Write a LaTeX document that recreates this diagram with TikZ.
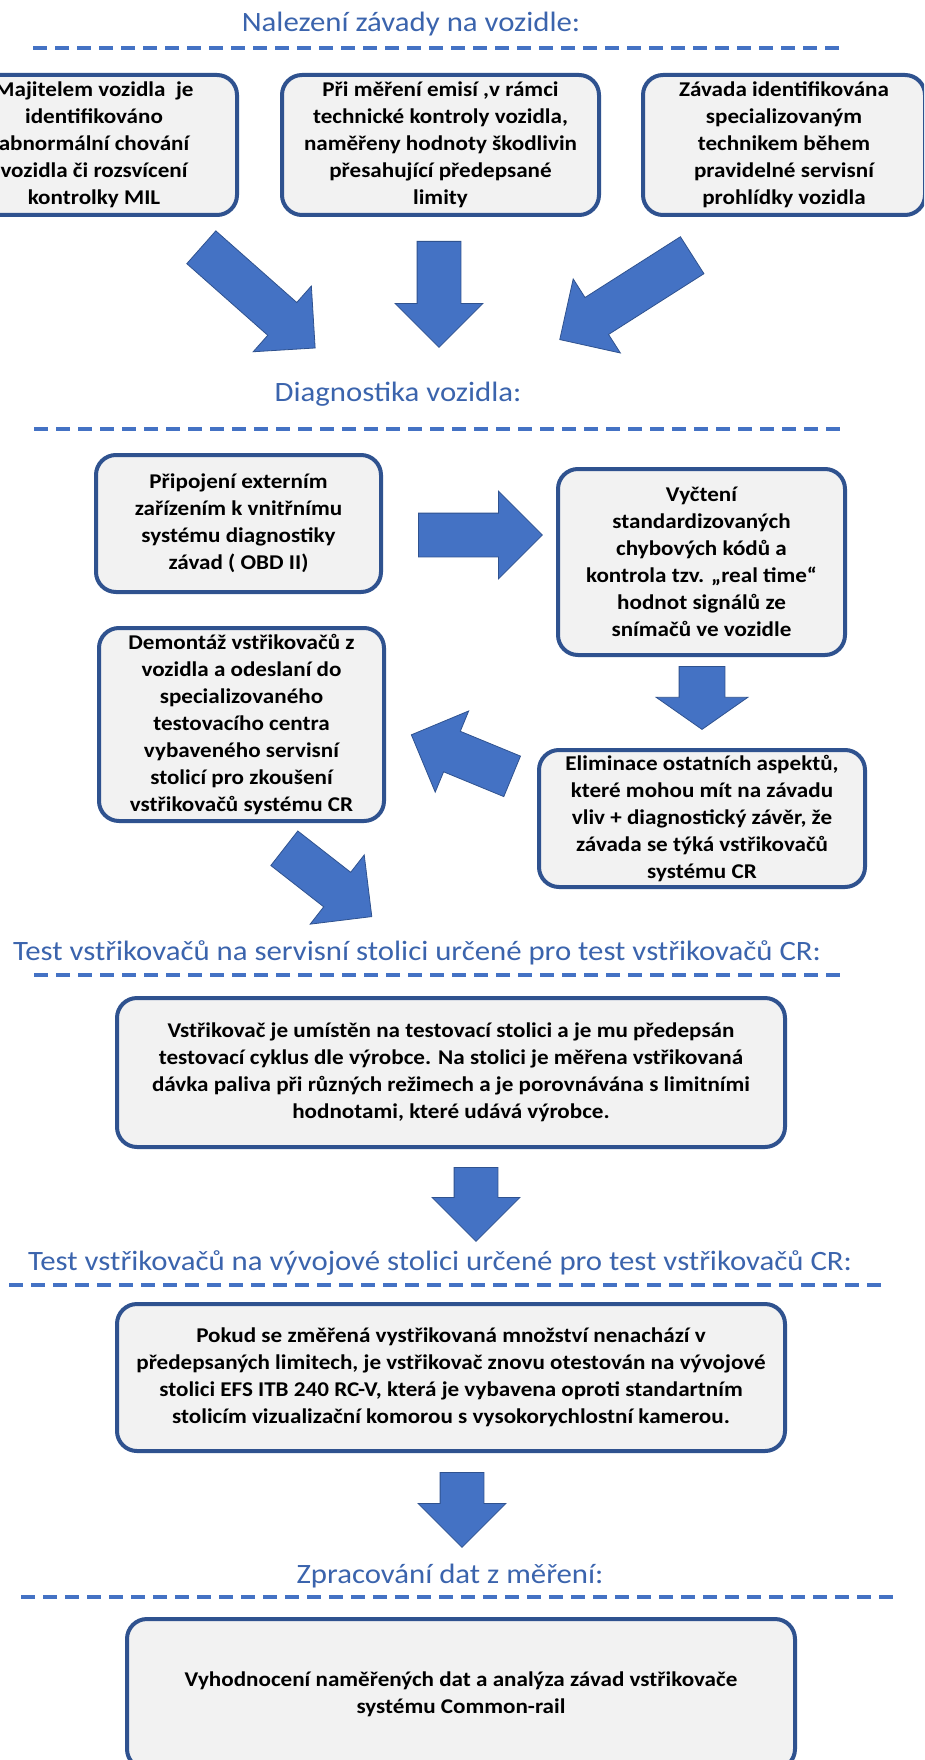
\documentclass[tikz,border=0pt]{standalone}
\usepackage{fontspec}
\setmainfont[FakeStretch=1.1]{Carlito}
\usepackage{xcolor}
\usetikzlibrary{shapes.arrows}
\definecolor{boxline}{HTML}{2F528F}
\definecolor{boxfill}{HTML}{F2F2F2}
\definecolor{arrowblue}{HTML}{4472C4}
\definecolor{titleblue}{HTML}{3B64AD}

\begin{document}
\begin{tikzpicture}[x=1pt,y=-1pt]
\tikzstyle{every node}+=[inner sep=0pt]
\tikzstyle{box}=[draw=boxline,fill=boxfill,line width=4pt,rounded corners=20pt,align=center,font=\fontsize{21}{27}\selectfont\bfseries]
\tikzstyle{blockarrow}=[single arrow,draw=boxline,fill=arrowblue,line width=0.8pt,inner xsep=0pt,inner ysep=21.5pt,single arrow head extend=22pt,anchor=tail]
\tikzstyle{heading}=[anchor=base,text=titleblue,font=\fontsize{28}{34}\selectfont]
\tikzstyle{dashline}=[arrowblue,line width=3.5pt,dash pattern=on 14pt off 8pt]
\clip (0,0) rectangle (924,1760);
\fill[white] (0,0) rectangle (924,1760);
\node[heading] (t1) at (411,32) {Nalezení závady na vozidle:};
\draw[dashline] (33,48) -- (846,48);
\node[box,minimum width=286pt,minimum height=140pt] (majitel) at (94,145) {Majitelem vozidla\ \ je\\identifikováno\\abnormální chování\\vozidla či rozsvícení\\kontrolky MIL};
\node[box,minimum width=317pt,minimum height=140pt] (emise) at (440.5,145) {Při měření emisí ,v rámci\\technické kontroly vozidla,\\naměřeny hodnoty škodlivin\\přesahující předepsané\\limity};
\node[box,minimum width=282pt,minimum height=140pt] (servis) at (784,145) {Závada identifikována\\specializovaným\\technikem během\\pravidelné servisní\\prohlídky vozidla};
\node[blockarrow,minimum height=152pt,rotate=-41.5] (s1) at (201,247) {};
\node[blockarrow,minimum height=106pt,rotate=-90] (s2) at (439,241) {};
\node[blockarrow,minimum height=157pt,rotate=-147.5] (s3) at (692.5,255) {};
\node[heading] (t2) at (398,401) {Diagnostika vozidla:};
\draw[dashline] (34,429) -- (846,429);
\node[box,minimum width=285pt,minimum height=137pt] (obd) at (238.5,523.5) {Připojení externím\\zařízením k vnitřnímu\\systému diagnostiky\\závad ( OBD II)};
\node[blockarrow,minimum height=124pt] (s4) at (418,535) {};
\node[box,minimum width=287pt,minimum height=186pt] (vycteni) at (701.5,562) {Vyčtení\\standardizovaných\\chybových kódů a\\kontrola tzv. „real time“\\hodnot signálů ze\\snímačů ve vozidle};
\node[blockarrow,minimum height=63pt,inner ysep=22.5pt,single arrow head extend=23pt,single arrow tip angle=110,rotate=-90] (s5) at (702,666) {};
\node[box,minimum width=285pt,minimum height=193pt] (demontaz) at (241.5,724.5) {Demontáž vstřikovačů z\\vozidla a odeslaní do\\specializovaného\\testovacího centra\\vybaveného servisní\\stolicí pro zkoušení\\vstřikovačů systému CR};
\node[box,minimum width=326pt,minimum height=137pt] (eliminace) at (702,818.5) {Eliminace ostatních aspektů,\\které mohou mít na závadu\\vliv + diagnostický závěr, že\\závada se týká vstřikovačů\\systému CR};
\node[blockarrow,minimum height=109pt,rotate=157.6] (s6) at (512.5,776.5) {};
\node[blockarrow,minimum height=111pt,rotate=-38] (s7) at (284,848) {};
\node[heading] (t3) at (417,960) {Test vstřikovačů na servisní stolici určené pro test vstřikovačů CR:};
\draw[dashline] (34,975) -- (846,975);
\node[box,minimum width=668pt,minimum height=149pt] (servisni) at (451,1072.5) {Vstřikovač je umístěn na testovací stolici a je mu předepsán\\testovací cyklus dle výrobce. Na stolici je měřena vstřikovaná\\dávka paliva při různých režimech a je porovnávána s limitními\\hodnotami, které udává výrobce.};
\node[blockarrow,minimum height=74pt,rotate=-90] (s8) at (476,1167) {};
\node[heading] (t4) at (440,1270) {Test vstřikovačů na vývojové stolici určené pro test vstřikovačů CR:};
\draw[dashline] (9,1285) -- (887,1285);
\node[box,minimum width=668pt,minimum height=147pt] (vyvojova) at (451,1377.5) {Pokud se změřená vystřikovaná množství nenachází v\\předepsaných limitech, je vstřikovač znovu otestován na vývojové\\stolici EFS ITB 240 RC-V, která je vybavena oproti standartním\\stolicím vizualizační komorou s vysokorychlostní kamerou.};
\node[blockarrow,minimum height=75pt,rotate=-90] (s9) at (462,1472) {};
\node[heading] (t5) at (450,1583) {Zpracování dat z měření:};
\draw[dashline] (21,1597) -- (899,1597);
\node[box,minimum width=668pt,minimum height=150pt] (vyhodnoceni) at (461,1694) {Vyhodnocení naměřených dat a analýza závad vstřikovače\\systému Common-rail};
\end{tikzpicture}
\end{document}
